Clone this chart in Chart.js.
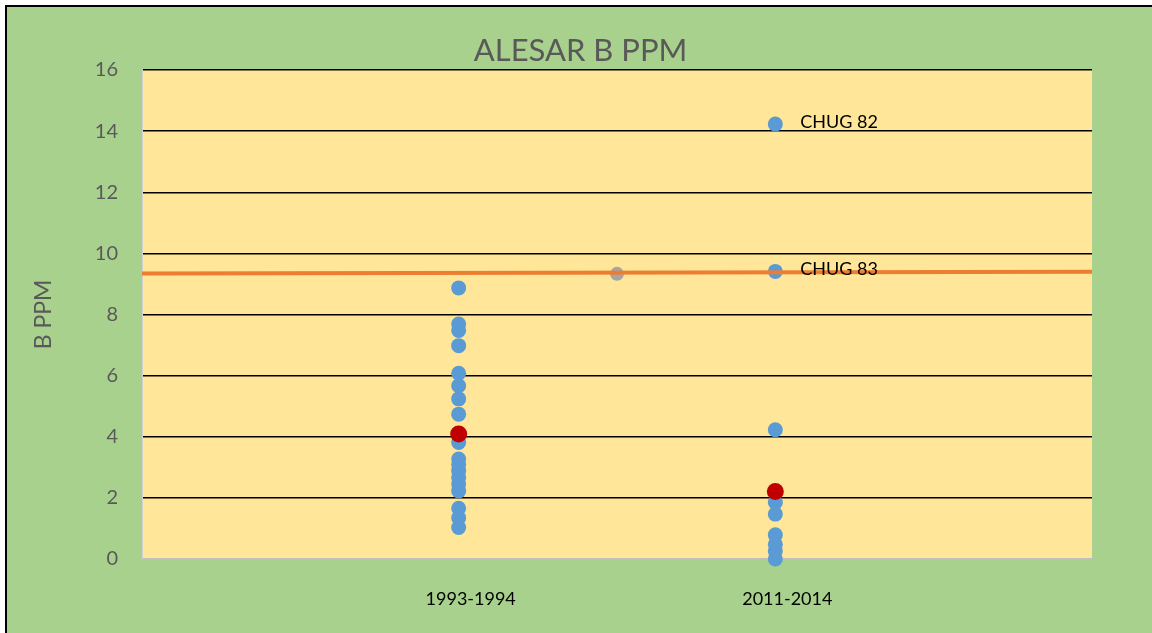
<!doctype html>
<html lang="es">
<head>
    <meta charset="UTF-8">
    <script src="https://cdn.jsdelivr.net/npm/chart.js@4.4.1/dist/chart.umd.min.js"></script>
    <title>ALESAR B PPM</title>
    <style>
        * { margin: 0; padding: 0; box-sizing: content-box; }
        body { background: #fff; width: 1152px; height: 633px; overflow: hidden; }
        .frame {
            position: absolute;
            left: 5px;
            top: 5px;
            width: 1147px;
            height: 628px;
            border-left: 2px solid #000;
            border-top: 2px solid #000;
            background: #A9D18E;
        }
    </style>
</head>
<body>
<div class="frame">
    <canvas id="canvas" width="1147" height="628"></canvas>
</div>
<script>
    // categorias del eje x (posicion 1 y 2)
    const periods = ["1993-1994", "2011-2014"];

    // valores B ppm leidos por periodo
    const valores1993 = [8.87, 7.69, 7.48, 6.98, 6.08, 5.67, 5.24, 4.74, 3.81, 3.27, 3.10, 2.89, 2.67, 2.45, 2.23, 1.66, 1.35, 1.03];
    const valores2011 = [14.23, 9.41, 4.23, 1.85, 1.47, 0.79, 0.48, 0.26, 0.0];
    const etiquetas2011 = ["CHUG 82", "CHUG 83", "", "", "", "", "", "", ""];

    // promedios (puntos rojos)
    const promedios = [4.09, 2.21];

    // punto gris en el medio y linea de referencia
    const puntoGris = [9.33];
    const lineaX = [0, 3];
    const lineaY = [9.34, 9.40];

    const yTicks = [0, 2, 4, 6, 8, 10, 12, 14, 16];

    const puntos = [];
    valores1993.forEach(v => puntos.push({x: 1, y: v}));
    valores2011.forEach(v => puntos.push({x: 2, y: v}));
    const etiquetas = valores1993.map(() => "").concat(etiquetas2011);

    const plotBg = {
        id: "plotBg",
        beforeDraw(chart) {
            const a = chart.chartArea;
            const c = chart.ctx;
            c.save();
            c.fillStyle = "#FFE699";
            c.fillRect(a.left, a.top, a.right - a.left, a.bottom - a.top);
            c.restore();
        }
    };

    // etiquetas de texto a la derecha de algunos puntos
    const pointLabels = {
        id: "pointLabels",
        afterDatasetsDraw(chart) {
            const meta = chart.getDatasetMeta(1);
            const c = chart.ctx;
            c.save();
            c.font = "18px Lato";
            c.fillStyle = "#000";
            c.textBaseline = "middle";
            meta.data.forEach((p, i) => {
                if (etiquetas[i]) c.fillText(etiquetas[i], p.x + 25, p.y - 2);
            });
            c.restore();
        }
    };

    new Chart(document.getElementById("canvas"), {
        type: "scatter",
        data: {
            datasets: [
                {
                    type: "line",
                    data: lineaX.map((x, i) => ({x: x, y: lineaY[i]})),
                    borderColor: "#ED7D31",
                    borderWidth: 4,
                    pointRadius: 0,
                    order: 0
                },
                {
                    data: puntos,
                    backgroundColor: "#5B9BD5",
                    borderWidth: 0,
                    pointRadius: 7.5,
                    clip: false,
                    order: 2
                },
                {
                    data: promedios.map((v, i) => ({x: i + 1, y: v})),
                    backgroundColor: "#C00000",
                    borderWidth: 0,
                    pointRadius: 8.5,
                    order: 1
                },
                {
                    data: puntoGris.map(v => ({x: 1.5, y: v})),
                    backgroundColor: "#A5A5A5",
                    borderWidth: 0,
                    pointRadius: 7,
                    order: 3
                }
            ]
        },
        options: {
            responsive: false,
            animation: false,
            layout: {padding: 0},
            plugins: {
                legend: {display: false},
                tooltip: {enabled: false},
                title: {
                    display: true,
                    text: "ALESAR B PPM",
                    color: "#595959",
                    font: {family: "Lato", size: 31, weight: "normal"},
                    padding: {top: 25.8, bottom: 0}
                }
            },
            scales: {
                x: {
                    type: "linear",
                    min: 0,
                    max: 3,
                    afterBuildTicks: s => { s.ticks = periods.map((p, i) => ({value: i + 1})); },
                    afterFit: s => { s.height = 76; },
                    grid: {display: false, drawTicks: false},
                    border: {display: true, color: "#BFBFBF", width: 1.5},
                    ticks: {
                        color: "#000",
                        font: {family: "Lato", size: 18},
                        padding: 29,
                        labelOffset: 12,
                        maxRotation: 0,
                        callback: v => periods[v - 1] || ""
                    }
                },
                y: {
                    min: 0,
                    max: 16,
                    afterBuildTicks: s => { s.ticks = yTicks.map(v => ({value: v})); },
                    afterFit: s => { s.width = 135; },
                    grid: {
                        drawTicks: false,
                        color: c => c.tick && c.tick.value === 0 ? "#BFBFBF" : "#000",
                        lineWidth: 1.5
                    },
                    border: {display: true, color: "#D0D0D0", width: 1},
                    ticks: {
                        color: "#595959",
                        font: {family: "Lato", size: 20},
                        padding: 24
                    },
                    title: {
                        display: true,
                        text: "B PPM",
                        color: "#595959",
                        font: {family: "Lato", size: 23},
                        padding: {top: 23, bottom: 0}
                    }
                },
                // eje derecho vacio, solo reserva el margen derecho
                yDer: {
                    position: "right",
                    min: 0,
                    max: 16,
                    afterFit: s => { s.width = 62; },
                    grid: {display: false, drawTicks: false},
                    border: {display: false},
                    ticks: {display: false}
                }
            }
        },
        plugins: [plotBg, pointLabels]
    });
</script>
</body>
</html>
